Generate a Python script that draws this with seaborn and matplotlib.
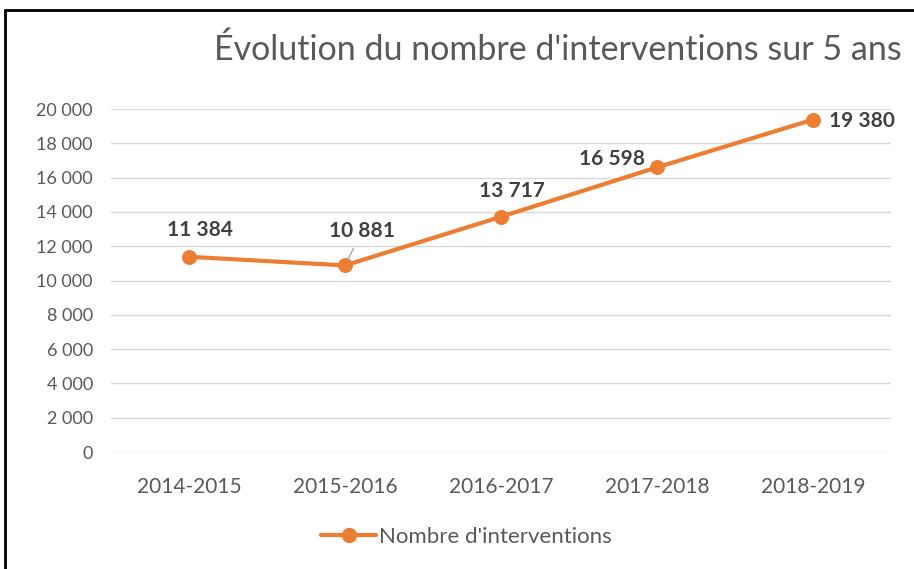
import matplotlib
matplotlib.use("Agg")
import matplotlib.pyplot as plt
import seaborn as sns
import pandas as pd
from matplotlib.lines import Line2D
from matplotlib.ticker import FuncFormatter

# data
periodes = ['2014-2015', '2015-2016', '2016-2017', '2017-2018', '2018-2019']
interventions = [11384, 10881, 13717, 16598, 19380]
serie = "Nombre d'interventions"
titre = "Évolution du nombre d'interventions sur 5 ans"

orange = '#ED7D31'
gris = '#595959'

sns.set_style("white")
plt.rcParams['font.family'] = ['Lato', 'DejaVu Sans']

df = pd.DataFrame({'periode': periodes, 'valeur': interventions})

fig = plt.figure(figsize=(9.14, 5.69), dpi=100)
ax = fig.add_axes([0.1214, 0.2056, 0.8534, 0.6028])

sns.lineplot(data=df, x='periode', y='valeur', ax=ax, color=orange,
             linewidth=3, marker='o', markersize=10, markeredgecolor=orange,
             label=serie, legend=False)

ax.set_xlim(-0.5, len(periodes) - 0.5)
ax.set_ylim(0, 20000)
ax.set_yticks(range(0, 20001, 2000))
ax.yaxis.set_major_formatter(FuncFormatter(lambda v, p: f'{int(v):,}'.replace(',', ' ')))
ax.grid(axis='y', color='#D9D9D9', linewidth=1)
ax.set_axisbelow(True)
for s in ax.spines.values():
    s.set_visible(False)
ax.tick_params(axis='y', length=0, labelsize=13, labelcolor=gris, pad=13)
ax.tick_params(axis='x', length=0, labelsize=15, labelcolor=gris, pad=18)
ax.set_xlabel('')
ax.set_ylabel('')

# data labels (pixel offsets)
offsets = [(11, 27), (17, 34), (11, 26), (-45, 8), (49, -1)]
for i, (v, off) in enumerate(zip(interventions, offsets)):
    lbl = f'{v:,}'.replace(',', ' ')
    arrow = None
    if i == 1:
        arrow = dict(arrowstyle='-', color='#A6A6A6', lw=1, shrinkA=3, shrinkB=4)
    ax.annotate(lbl, (i, v), xytext=off, textcoords='offset pixels',
                ha='center', va='center', fontsize=15, fontweight='bold',
                color='#404040', arrowprops=arrow)

fig.text(0.61, 0.912, titre, ha='center', va='center', fontsize=24.5, color=gris)

handle = Line2D([], [], color=orange, linewidth=3, marker='o', markersize=10)
fig.legend([handle], [serie], loc='center', bbox_to_anchor=(466 / 914, 1 - 537 / 569),
           frameon=False, fontsize=16, handlelength=2.5, handletextpad=0.1,
           labelcolor=gris)

# border of the chart area (left and top only)
fig.add_artist(Line2D([5 / 914, 5 / 914], [0, 1 - 10 / 569], color='black', lw=2,
                      transform=fig.transFigure))
fig.add_artist(Line2D([5 / 914, 1], [1 - 10 / 569, 1 - 10 / 569], color='black', lw=2,
                      transform=fig.transFigure))

fig.savefig('out.png', dpi=100)
